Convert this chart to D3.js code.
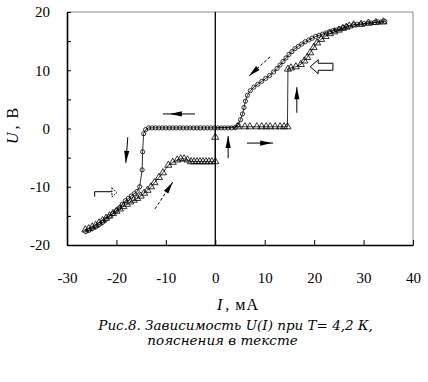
<!DOCTYPE html>
<html>
<head>
<meta charset="utf-8">
<script src="https://cdn.jsdelivr.net/npm/d3@7"></script>
<style>
  body { margin: 0; background: #fff; }
  svg { display: block; }
</style>
</head>
<body>
<div id="container"></div>
<script>
// DATA: circles = sweep from +I to -I, triangles = sweep back
const circI = [34.3, 33.6, 32.9, 32.2, 31.5, 30.8, 30.1, 29.4, 28.7, 28.0,
  26.6, 25.9, 25.2, 24.5, 23.8, 23.1, 22.4, 21.7, 21.0, 20.3, 19.6, 18.9, 18.2,
  17.5, 16.8, 16.1, 15.5, 14.9, 14.3, 13.7, 13.1, 12.5, 11.8, 11.0, 10.2, 9.4,
  8.6, 7.8, 7.1, 6.5, 6.1, 5.8, 5.5, 5.1, 4.6, 4.0,
  3.3, 2.6, 1.9, 1.2, 0.5, -0.2, -0.9, -1.6, -2.3, -3.0, -3.7, -4.4, -5.1,
  -5.8, -6.5, -7.2, -7.9, -8.6, -9.3, -10.0, -10.7, -11.4, -12.1, -12.8, -13.5,
  -14.1, -14.5, -14.7, -14.8, -15.3,
  -15.8, -16.4, -17.0, -17.6, -18.2, -18.8, -19.4, -20.0, -20.7, -21.4, -22.1,
  -22.8, -23.5, -24.2, -24.9, -25.6, -26.2];
const circU = [18.4, 18.3, 18.3, 18.2, 18.1, 18.1, 18.0, 17.9, 17.9, 17.8,
  17.5, 17.3, 17.1, 16.9, 16.8, 16.6, 16.4, 16.2, 16.0, 15.8, 15.5, 15.2, 14.9,
  14.5, 14.1, 13.7, 13.2, 12.7, 12.1, 11.5, 10.9, 10.3, 9.7, 9.1, 8.6, 8.1,
  7.6, 7.1, 6.5, 5.7, 4.7, 3.6, 2.5, 1.5, 0.6, 0.15,
  0.1, 0.1, 0.1, 0.1, 0.1, 0.1, 0.1, 0.1, 0.1, 0.1, 0.1, 0.1, 0.1,
  0.1, 0.1, 0.1, 0.1, 0.1, 0.1, 0.1, 0.1, 0.1, 0.1, 0.1, 0.1,
  -0.2, -0.9, -4.0, -7.1, -10.0,
  -10.8, -11.2, -11.6, -12.0, -12.4, -13.0, -13.6, -14.1, -14.6, -15.1, -15.6,
  -16.1, -16.5, -16.9, -17.2, -17.5, -17.7];

const triI = [-26.3, -25.6, -24.9, -24.2, -23.5, -22.8, -22.1, -21.4, -20.7,
  -20.0, -19.3, -18.6, -17.9, -17.2, -16.5, -15.8, -15.1, -14.4, -13.7, -13.0,
  -12.3, -11.4, -10.6, -9.5, -8.6, -7.7, -7.0, -6.3, -5.6,
  -4.9, -4.3, -3.7, -3.1, -2.5, -1.9, -1.3, -0.7, 0.0,
  0.0, 0.0, 4.6, 6.0, 7.0, 8.4, 9.4, 10.3, 11.1, 12.1,
  13.1, 13.9, 14.6,
  14.7, 15.3, 16.3, 17.3, 18.0, 18.6, 19.2, 19.9, 20.6, 21.4, 22.3, 23.2,
  24.1, 25.0, 25.8, 26.5, 27.1, 28.0, 29.5, 31.0, 32.5, 34.0];
const triU = [-17.4, -17.2, -16.9, -16.6, -16.2, -15.8, -15.4, -15.0, -14.6,
  -14.2, -13.8, -13.4, -13.0, -12.6, -12.3, -12.0, -11.6, -11.1, -10.6, -10.0,
  -9.3, -8.4, -7.6, -6.3, -5.8, -5.4, -5.2, -5.2, -5.4,
  -5.7, -5.7, -5.7, -5.7, -5.7, -5.7, -5.7, -5.7, -5.7,
  -1.5, 0.1, 0.3, 0.3, 0.3, 0.3, 0.3, 0.3, 0.3, 0.3,
  0.3, 0.3, 0.3,
  10.2, 10.4, 10.6, 11.0, 11.6, 12.2, 13.0, 13.9, 14.7, 15.3, 15.8, 16.3,
  16.6, 16.9, 17.2, 17.4, 17.6, 17.8, 17.9, 18.1, 18.2, 18.3];
// point (0, 0.1) is hidden under the circle ribbon, no marker drawn there
const triHidden = [39];

const xTicks = [-30, -20, -10, 0, 10, 20, 30, 40];
const yTicks = [-20, -15, -10, -5, 0, 5, 10, 15, 20];

// ANNOTATION ARROWS (data coordinates)
const solidArrows = [
  { from: [-4.1, 2.5], to: [-10.6, 2.5], tip: [-9.2, 2.5], dashed: false },
  { from: [-17.7, -1.5], to: [-18.1, -5.9], tip: [-18.1, -5.9], dashed: false },
  { from: [-12.2, -13.8], to: [-8.6, -9.2], tip: [-8.6, -9.2], dashed: true },
  { from: [2.6, -5.1], to: [2.6, -1.3], tip: [2.6, -1.3], dashed: false },
  { from: [6.4, -2.5], to: [11.7, -2.5], tip: [11.5, -2.5], dashed: false },
  { from: [16.5, 2.7], to: [16.5, 7.1], tip: [16.5, 7.1], dashed: false },
  { from: [11.1, 12.3], to: [6.8, 9.0], tip: [6.8, 9.0], dashed: true },
];
const bentArrow = { corner: [-24.4, -10.85], foot: [-24.4, -11.7], tip: [-19.9, -10.85] };
const blockArrow = { tip: [19.2, 10.6], tail: [23.8, 10.6] };

const width = 428;
const height = 382;
const serif = "'Liberation Serif', 'Times New Roman', serif";

const chart = d3
  .create("svg")
  .attr("width", width)
  .attr("height", height)
  .attr("viewBox", `0 0 ${width} ${height}`);

// SCALES
const xScale = d3.scaleLinear().domain([-30, 40]).range([67, 413]);
const yScale = d3.scaleLinear().domain([-20, 20]).range([245, 12]);

// FRAME (top / right in grey)
chart.append("line")
  .attr("x1", 67).attr("x2", 413).attr("y1", 12).attr("y2", 12)
  .attr("stroke", "#8a8a8a").attr("stroke-width", 1);
chart.append("line")
  .attr("x1", 413).attr("x2", 413).attr("y1", 12).attr("y2", 245)
  .attr("stroke", "#8a8a8a").attr("stroke-width", 1);

// AXES
const xAxis = d3.axisBottom(xScale)
  .tickValues(xTicks)
  .tickSizeInner(-5)
  .tickSizeOuter(0)
  .tickPadding(27)
  .tickFormat((d) => String(d));
const yAxis = d3.axisLeft(yScale)
  .tickValues(yTicks)
  .tickSizeInner(-4)
  .tickSizeOuter(0)
  .tickPadding(17)
  .tickFormat((d) => (d % 10 === 0 ? String(d) : ""));

const gx = chart.append("g")
  .attr("transform", `translate(0, ${yScale(-20)})`)
  .call(xAxis);
const gy = chart.append("g")
  .attr("transform", `translate(${xScale(-30)}, 0)`)
  .call(yAxis);

[gx, gy].forEach((g) => {
  g.attr("font-family", serif).attr("font-size", 15);
  g.select(".domain").attr("stroke", "#000").attr("stroke-width", 1.6);
  g.selectAll(".tick line").attr("stroke", "#000").attr("stroke-width", 1);
  g.selectAll(".tick text")
    .attr("font-family", serif)
    .attr("font-size", 15)
    .attr("fill", "#000");
});

// ZERO LINE
chart.append("line")
  .attr("x1", xScale(0)).attr("x2", xScale(0))
  .attr("y1", yScale(20)).attr("y2", yScale(-20))
  .attr("stroke", "#000").attr("stroke-width", 1.3);

// SERIES
const circData = circI.map((v, i) => ({ i: v, u: circU[i] }));
const triData = triI.map((v, i) => ({ i: v, u: triU[i], hidden: triHidden.includes(i) }));

const line = d3.line().x((d) => xScale(d.i)).y((d) => yScale(d.u));

const seriesG = chart.append("g");
seriesG.append("path")
  .datum(triData)
  .attr("d", line)
  .attr("fill", "none")
  .attr("stroke", "#000")
  .attr("stroke-width", 0.8);
seriesG.append("path")
  .datum(circData)
  .attr("d", line)
  .attr("fill", "none")
  .attr("stroke", "#000")
  .attr("stroke-width", 0.8);

const triSymbol = d3.symbol().type(d3.symbolTriangle).size(22);
seriesG.selectAll("path.tri")
  .data(triData.filter((d) => !d.hidden))
  .join("path")
  .attr("class", "tri")
  .attr("transform", (d) => `translate(${xScale(d.i)}, ${yScale(d.u)})`)
  .attr("d", triSymbol)
  .attr("fill", "none")
  .attr("stroke", "#000")
  .attr("stroke-width", 0.8);

seriesG.selectAll("circle")
  .data(circData)
  .join("circle")
  .attr("cx", (d) => xScale(d.i))
  .attr("cy", (d) => yScale(d.u))
  .attr("r", 2.1)
  .attr("fill", "none")
  .attr("stroke", "#000")
  .attr("stroke-width", 0.8);

// ARROWS
const arrowG = chart.append("g");
const headPoints = (tip, dir, len, half) => {
  const [tx, ty] = tip;
  const [dx, dy] = dir;
  const bx = tx - dx * len;
  const by = ty - dy * len;
  return [[tx, ty], [bx - dy * half, by + dx * half], [bx + dy * half, by - dx * half]];
};

solidArrows.forEach((a) => {
  const x1 = xScale(a.from[0]), y1 = yScale(a.from[1]);
  const x2 = xScale(a.to[0]), y2 = yScale(a.to[1]);
  const tx = xScale(a.tip[0]), ty = yScale(a.tip[1]);
  const len = Math.hypot(x2 - x1, y2 - y1);
  const dir = [(x2 - x1) / len, (y2 - y1) / len];
  arrowG.append("line")
    .attr("x1", x1).attr("y1", y1).attr("x2", x2).attr("y2", y2)
    .attr("stroke", "#000").attr("stroke-width", 1)
    .attr("stroke-dasharray", a.dashed ? "3,2" : null);
  arrowG.append("polygon")
    .attr("points", headPoints([tx, ty], dir, 12, 2.6).map((p) => p.join(",")).join(" "))
    .attr("fill", "#000");
});

// bent open arrow
{
  const cx = xScale(bentArrow.corner[0]), cy = yScale(bentArrow.corner[1]);
  const fy = yScale(bentArrow.foot[1]);
  const tx = xScale(bentArrow.tip[0]);
  arrowG.append("path")
    .attr("d", `M${cx},${fy}V${cy}H${tx - 5}`)
    .attr("fill", "none").attr("stroke", "#000").attr("stroke-width", 1);
  arrowG.append("path")
    .attr("d", `M${tx - 5},${cy - 4}L${tx},${cy + 1}L${tx - 5},${cy + 5}Z`)
    .attr("fill", "#fff").attr("stroke", "#000").attr("stroke-width", 0.9)
    .attr("stroke-dasharray", "2,1");
}

// block outline arrow
{
  const tx = xScale(blockArrow.tip[0]), ty = yScale(blockArrow.tip[1]);
  const ex = xScale(blockArrow.tail[0]);
  const hx = tx + 8;
  arrowG.append("path")
    .attr("d", `M${tx},${ty}L${hx},${ty - 7}V${ty - 3.5}H${ex}V${ty + 3.5}H${hx}V${ty + 7}Z`)
    .attr("fill", "#fff").attr("stroke", "#000").attr("stroke-width", 1);
}

// AXIS TITLES
const xTitle = chart.append("text")
  .attr("x", 238).attr("y", 310)
  .attr("text-anchor", "middle")
  .attr("font-family", serif)
  .attr("font-size", 16)
  .attr("fill", "#000");
xTitle.append("tspan").attr("font-style", "italic").text("I");
xTitle.append("tspan").attr("dx", 3).text(",");
xTitle.append("tspan").attr("dx", 6).attr("letter-spacing", 1).text("мА");

const yTitle = chart.append("text")
  .attr("transform", "translate(18, 126) rotate(-90)")
  .attr("text-anchor", "middle")
  .attr("font-family", serif)
  .attr("font-size", 16)
  .attr("fill", "#000");
yTitle.append("tspan").attr("font-style", "italic").text("U");
yTitle.append("tspan").attr("dx", 3).text(",");
yTitle.append("tspan").attr("dx", 7).text("В");

// CAPTION
chart.append("text")
  .attr("x", 235.5).attr("y", 330)
  .attr("text-anchor", "middle")
  .attr("font-family", "'DejaVu Serif', serif")
  .attr("font-style", "italic")
  .attr("font-size", 13.5)
  .attr("fill", "#000")
  .text("Рис.8. Зависимость U(I) при T= 4,2 К,");
chart.append("text")
  .attr("x", 222.5).attr("y", 345)
  .attr("text-anchor", "middle")
  .attr("font-family", "'DejaVu Serif', serif")
  .attr("font-style", "italic")
  .attr("font-size", 13.5)
  .attr("fill", "#000")
  .text("пояснения в тексте");

document.getElementById("container").append(chart.node());
</script>
</body>
</html>
